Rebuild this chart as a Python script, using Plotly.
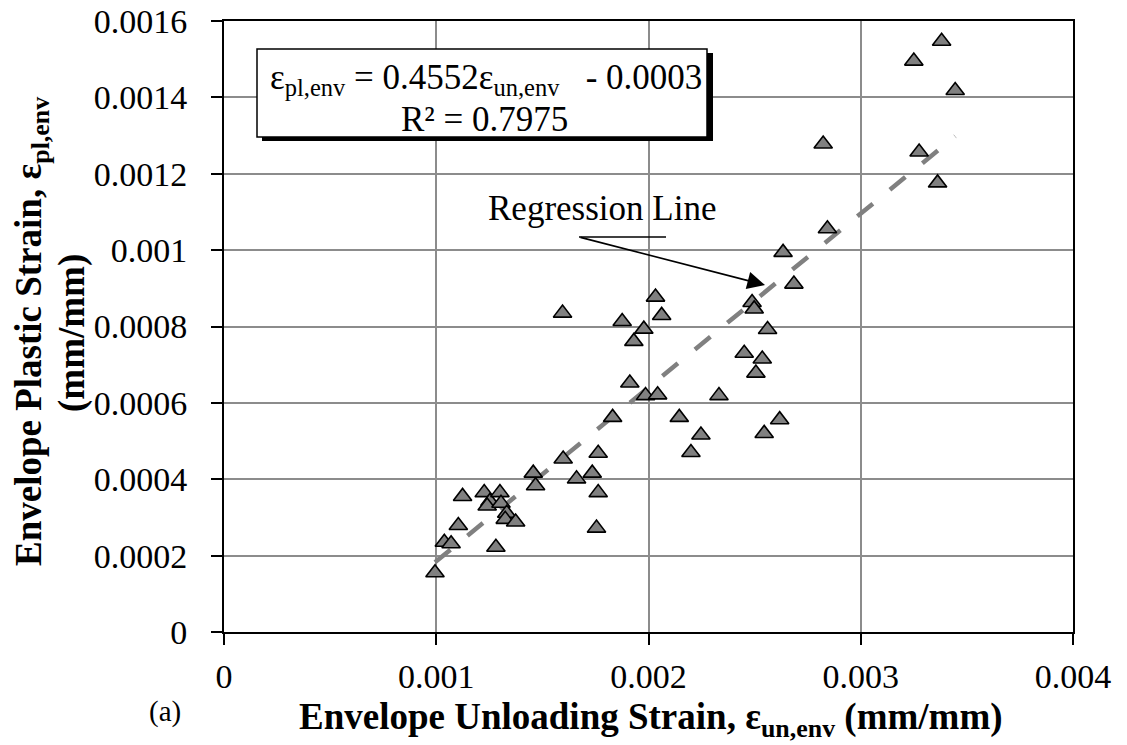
import numpy as np
import plotly.graph_objects as go

# ---- data ----
unloading_strain = [
    0.000994, 0.001038, 0.001070, 0.001104, 0.001124, 0.001226, 0.001253, 0.001240,
    0.001300, 0.001305, 0.001332, 0.001325, 0.001374, 0.001281, 0.001457, 0.001468,
    0.001598, 0.001661, 0.001735, 0.001763, 0.001763, 0.001755, 0.001831, 0.001912,
    0.001986, 0.002043, 0.002332, 0.002145, 0.002247, 0.002200, 0.002545, 0.002618,
    0.001595, 0.001876, 0.001978, 0.001931, 0.002033, 0.002062, 0.002488, 0.002498,
    0.002561, 0.002451, 0.002536, 0.002506, 0.002685, 0.002634, 0.002843, 0.002823,
    0.003275, 0.003362, 0.003250, 0.003381, 0.003445,
]
plastic_strain = [
    0.000155, 0.000235, 0.000231, 0.000279, 0.000355, 0.000365, 0.000342, 0.000330,
    0.000365, 0.000337, 0.000311, 0.000295, 0.000288, 0.000222, 0.000416, 0.000383,
    0.000453, 0.000401, 0.000416, 0.000468, 0.000365, 0.000272, 0.000562, 0.000652,
    0.000619, 0.000621, 0.000619, 0.000562, 0.000516, 0.000470, 0.000520, 0.000556,
    0.000835, 0.000813, 0.000793, 0.000761, 0.000877, 0.000829, 0.000863, 0.000846,
    0.000792, 0.000730, 0.000715, 0.000678, 0.000911, 0.000994, 0.001056, 0.001278,
    0.001257, 0.001176, 0.001495, 0.001547, 0.001418,
]
reg_slope = 0.4552
reg_intercept = -0.00027

x_tickvals = [0, 0.001, 0.002, 0.003, 0.004]
x_ticktext = ["0", "0.001", "0.002", "0.003", "0.004"]
y_tickvals = [0, 0.0002, 0.0004, 0.0006, 0.0008, 0.001, 0.0012, 0.0014, 0.0016]
y_ticktext = ["0", "0.0002", "0.0004", "0.0006", "0.0008", "0.001", "0.0012", "0.0014", "0.0016"]

FONT = "Liberation Serif, Times New Roman, serif"

reg_x = np.array([min(unloading_strain), max(unloading_strain)])
reg_y = reg_slope * reg_x + reg_intercept

fig = go.Figure()
fig.add_trace(go.Scatter(
    x=reg_x, y=reg_y, mode="lines",
    line=dict(color="#808080", width=4.5, dash="20px,22px"),
    showlegend=False, hoverinfo="skip",
))
fig.add_trace(go.Scatter(
    x=unloading_strain, y=plastic_strain, mode="markers",
    marker=dict(symbol="triangle-up", size=16, color="#808080",
                line=dict(color="black", width=1.6)),
    showlegend=False,
))

W, H = 1127, 745
L, R, T, B = 224, 54, 21, 113
pw, ph = W - L - R, H - T - B


def px(x):
    return (x - L) / pw


def py(y):
    return (H - B - y) / ph


fig.update_layout(
    width=W, height=H, autosize=False,
    margin=dict(l=L, r=R, t=T, b=B, autoexpand=False),
    paper_bgcolor="white", plot_bgcolor="white",
    font=dict(family=FONT, size=34, color="black"),
    xaxis=dict(range=[0, 0.004], tickvals=x_tickvals, ticktext=x_ticktext,
               showgrid=True, gridcolor="#8c8c8c", gridwidth=1.5,
               showline=True, linecolor="black", linewidth=2, mirror=True,
               ticks="outside", ticklen=11, tickwidth=1.5, tickcolor="black",
               ticklabelstandoff=2, zeroline=False, automargin=False,
               tickfont=dict(family=FONT, size=34)),
    yaxis=dict(range=[0, 0.0016], tickvals=y_tickvals, ticktext=y_ticktext,
               showgrid=True, gridcolor="#8c8c8c", gridwidth=1.5,
               showline=True, linecolor="black", linewidth=2, mirror=True,
               ticks="outside", ticklen=11, tickwidth=1.5, tickcolor="black",
               ticklabelstandoff=17, zeroline=False, automargin=False,
               tickfont=dict(family=FONT, size=34)),
    shapes=[
        # equation box shadow and box
        dict(type="rect", xref="paper", yref="paper",
             x0=px(262), x1=px(713), y0=py(141), y1=py(53),
             fillcolor="black", line=dict(width=0), layer="above"),
        dict(type="rect", xref="paper", yref="paper",
             x0=px(257), x1=px(707), y0=py(137), y1=py(49),
             fillcolor="white", line=dict(color="black", width=1.5), layer="above"),
        # underline of label
        dict(type="line", xref="paper", yref="paper",
             x0=px(579), x1=px(666), y0=py(237), y1=py(237),
             line=dict(color="black", width=1.5), layer="above"),
    ],
    annotations=[
        dict(text="\u03b5<sub>pl,env</sub> = 0.4552\u03b5<sub>un,env</sub>\u00a0\u00a0\u00a0- 0.0003",
             xref="paper", yref="paper", x=px(486), y=py(79),
             xanchor="center", yanchor="middle", showarrow=False,
             font=dict(family=FONT, size=35)),
        dict(text="R\u00b2 = 0.7975",
             xref="paper", yref="paper", x=px(484), y=py(119),
             xanchor="center", yanchor="middle", showarrow=False,
             font=dict(family=FONT, size=35)),
        dict(text="Regression Line",
             xref="paper", yref="paper", x=px(602), y=py(208),
             xanchor="center", yanchor="middle", showarrow=False,
             font=dict(family=FONT, size=35)),
        dict(text="", xref="paper", yref="paper", x=px(765), y=py(285),
             showarrow=True, arrowhead=2, arrowsize=2.2, arrowwidth=1.6,
             arrowcolor="black", ax=579 - 765, ay=237 - 285, axref="pixel", ayref="pixel"),
        dict(text="<b>Envelope Unloading Strain, \u03b5<sub>un,env</sub> (mm/mm)</b>",
             xref="paper", yref="paper", x=px(651), y=py(719),
             xanchor="center", yanchor="middle", showarrow=False,
             font=dict(family=FONT, size=37)),
        dict(text="<b>Envelope Plastic Strain, \u03b5<sub>pl,env</sub></b>",
             xref="paper", yref="paper", x=px(31), y=py(332),
             xanchor="center", yanchor="middle", showarrow=False, textangle=-90,
             font=dict(family=FONT, size=37)),
        dict(text="<b>(mm/mm)</b>",
             xref="paper", yref="paper", x=px(72), y=py(333),
             xanchor="center", yanchor="middle", showarrow=False, textangle=-90,
             font=dict(family=FONT, size=37)),
        dict(text="(a)", xref="paper", yref="paper", x=px(165), y=py(711),
             xanchor="center", yanchor="middle", showarrow=False,
             font=dict(family=FONT, size=29)),
    ],
)

fig.write_html("out.html", config={"displayModeBar": False},
               post_script="document.body.style.margin='0px';document.body.style.overflow='hidden';")
